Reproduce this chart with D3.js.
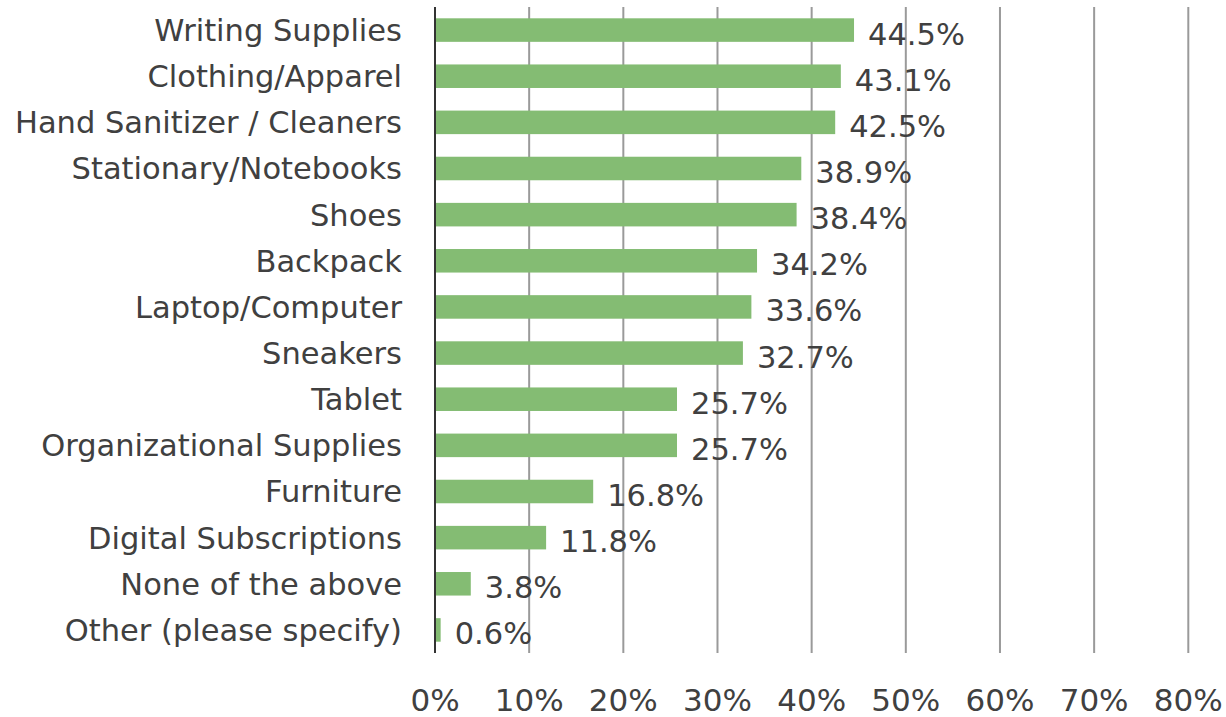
<!DOCTYPE html>
<html>
<head>
<meta charset="utf-8">
<script src="https://d3js.org/d3.v7.min.js"></script>
<style>
  body { margin: 0; background: #fff; }
  svg text { font-family: "DejaVu Sans", sans-serif; fill: #404040; }
</style>
</head>
<body>
<svg id="chart" width="1226" height="717"></svg>
<script>
// chart data
const categories = ["Writing Supplies", "Clothing/Apparel", "Hand Sanitizer / Cleaners",
  "Stationary/Notebooks", "Shoes", "Backpack", "Laptop/Computer", "Sneakers", "Tablet",
  "Organizational Supplies", "Furniture", "Digital Subscriptions", "None of the above",
  "Other (please specify)"];
const values = [44.5, 43.1, 42.5, 38.9, 38.4, 34.2, 33.6, 32.7, 25.7, 25.7, 16.8, 11.8, 3.8, 0.6];
const xTicks = [0, 10, 20, 30, 40, 50, 60, 70, 80];

const svg = d3.select("#chart");
const plotLeft = 435, plotRight = 1188.3, plotTop = 7, plotBottom = 653;
const fontSize = 30.5;

const x = d3.scaleLinear().domain([0, 80]).range([plotLeft, plotRight]);
const y = d3.scaleBand().domain(categories).range([plotTop, plotBottom]).paddingInner(0.49).paddingOuter(0.245);

// gridlines
svg.append("g").selectAll("line")
  .data(xTicks.filter(d => d > 0))
  .join("line")
  .attr("x1", d => x(d)).attr("x2", d => x(d))
  .attr("y1", plotTop).attr("y2", plotBottom)
  .attr("stroke", "#9a9a9a").attr("stroke-width", 2);

// bars
svg.append("g").selectAll("rect")
  .data(values)
  .join("rect")
  .attr("x", x(0))
  .attr("y", (d, i) => y(categories[i]))
  .attr("width", d => x(d) - x(0))
  .attr("height", y.bandwidth())
  .attr("fill", "#84bc73");

// value labels (sit a bit lower than the bar centre, like the original)
svg.append("g").selectAll("text")
  .data(values)
  .join("text")
  .attr("x", d => x(d) + 14)
  .attr("y", (d, i) => y(categories[i]) + y.bandwidth() / 2 + 3.5)
  .attr("dy", "0.36em")
  .style("font-size", fontSize + "px")
  .text(d => d.toFixed(1) + "%");

// category labels
svg.append("g").selectAll("text")
  .data(categories)
  .join("text")
  .attr("x", plotLeft - 33)
  .attr("y", d => y(d) + y.bandwidth() / 2)
  .attr("dy", "0.36em")
  .attr("text-anchor", "end")
  .style("font-size", fontSize + "px")
  .text(d => d);

// zero axis line
svg.append("line")
  .attr("x1", x(0)).attr("x2", x(0))
  .attr("y1", plotTop).attr("y2", plotBottom)
  .attr("stroke", "#333").attr("stroke-width", 2);

// x tick labels
svg.append("g").selectAll("text")
  .data(xTicks)
  .join("text")
  .attr("x", d => x(d))
  .attr("y", 700)
  .attr("dy", "0.36em")
  .attr("text-anchor", "middle")
  .style("font-size", "31px")
  .text(d => d + "%");
</script>
</body>
</html>
